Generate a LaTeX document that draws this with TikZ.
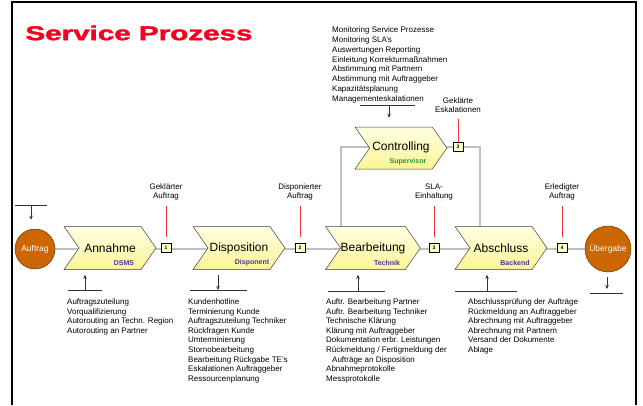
\documentclass[tikz,border=0pt]{standalone}
\usepackage{fontspec}
\setmainfont{Liberation Sans}
\newfontfamily\titlefont[BoldFeatures={FakeBold=1.6}]{Liberation Sans}
\usetikzlibrary{shapes.symbols,positioning,backgrounds,arrows.meta}

\definecolor{titlered}{RGB}{245,0,30}
\definecolor{endorange}{RGB}{204,102,0}
\definecolor{endborder}{RGB}{110,55,0}
\definecolor{steptop}{RGB}{255,255,228}
\definecolor{stepbottom}{RGB}{250,245,150}
\definecolor{rolepurple}{RGB}{80,50,150}
\definecolor{rolegreen}{RGB}{40,150,40}
\definecolor{flowgray}{RGB}{192,192,192}
\definecolor{markred}{RGB}{240,50,50}
\definecolor{tagfill}{RGB}{255,255,204}

\begin{document}
\begin{tikzpicture}[
				x=1pt, y=-1pt,
				procstep/.style={signal, signal from=west, signal to=east, signal pointer angle=110,
					draw=black!75, line width=0.5pt, top color=steptop, bottom color=stepbottom,
					minimum width=92pt, minimum height=43pt, inner sep=0pt,
					font=\fontsize{12}{14}\selectfont},
				endpoint/.style={circle, draw=endborder, line width=0.5pt, fill=endorange, text=white,
					minimum size=40pt, inner sep=0pt, font=\fontsize{8.5}{10}\selectfont},
				role/.style={inner sep=0pt, text=rolepurple, font=\fontsize{7}{8}\selectfont\bfseries},
				tagbox/.style={draw, line width=0.7pt, fill=tagfill, minimum width=10pt, minimum height=9pt,
					inner sep=0pt, font=\fontsize{5}{5}\selectfont\bfseries},
				result/.style={align=center, inner sep=0pt, font=\fontsize{8}{9.6}\selectfont},
				tasklist/.style={align=left, anchor=north west, inner sep=0pt, font=\fontsize{8}{9.6}\selectfont},
				flow/.style={draw=flowgray, line width=2.5pt},
				marker/.style={draw=markred, line width=0.8pt},
				bar/.style={draw=black!80, line width=0.7pt},
				feed/.style={draw=black!80, line width=0.7pt, -{Stealth[length=4pt,width=3.5pt]}}
			]
			\useasboundingbox (0,0) rectangle (643,405);
			\draw[line width=1.2pt] (12,405) -- (12,2) -- (636,2) -- (636,405);
			\node[text=titlered, font=\titlefont\fontsize{20}{24}\selectfont\bfseries] (title) at (139,33)
				{\scalebox{1.48}[1]{Service Prozess}};

			\node[endpoint] (auftrag) at (35,249) {Auftrag};
			\node[procstep] (annahme) at (110,248) {Annahme};
			\node[procstep] (dispo) at (239,248) {Disposition};
			\node[procstep] (bearb) at (373,248) {Bearbeitung};
			\node[procstep] (abschl) at (501,248) {Abschluss};
			\node[procstep, minimum height=42pt] (control) at (401,148) {\raisebox{4pt}{Controlling}};
			\node[endpoint, minimum size=46pt] (uebergabe) at (608,249) {Übergabe};

			\node[role] (rAnnahme) at ([xshift=14pt,yshift=-15pt]annahme.center) {DSMS};
			\node[role] (rDispo) at ([xshift=13pt,yshift=-15pt]dispo.center) {Disponent};
			\node[role] (rBearb) at ([xshift=14pt,yshift=-15pt]bearb.center) {Technik};
			\node[role] (rAbschl) at ([xshift=14pt,yshift=-15pt]abschl.center) {Backend};
			\node[role, text=rolegreen] (rControl) at ([xshift=7pt,yshift=-14pt]control.center) {Supervisor};

			\node[tagbox] (t1) at (166,248) {1};
			\node[tagbox] (t2) at (300,248) {2};
			\node[tagbox] (t3) at (434,248) {3};
			\node[tagbox] (t4) at (562,248) {4};
			\node[tagbox] (tc) at (458,147) {3};

			\node[result] (e1) at (166,192) {Geklärter\\Auftrag};
			\node[result] (e2) at (300,192) {Disponierter\\Auftrag};
			\node[result] (e3) at (434,192) {SLA-\\Einhaltung};
			\node[result] (e4) at (562,192) {Erledigter\\Auftrag};
			\node[result] (ec) at (458,105) {Geklärte\\Eskalationen};

			\draw[marker, shorten <=6pt, shorten >=5pt] (t1.north) -- (e1.south);
			\draw[marker, shorten <=6pt, shorten >=5pt] (t2.north) -- (e2.south);
			\draw[marker, shorten <=6pt, shorten >=5pt] (t3.north) -- (e3.south);
			\draw[marker, shorten <=6pt, shorten >=5pt] (t4.north) -- (e4.south);
			\draw[marker, shorten >=6pt] (tc.north) -- (ec.south);

			\begin{pgfonlayer}{background}
				\fill[white] (0,0) rectangle (643,405);
				\draw[flow] (auftrag) -- (uebergabe);
				\draw[flow] ([xshift=-32pt]bearb.north) |- (tc.center) -| ([xshift=-21pt]abschl.north);
			\end{pgfonlayer}

			\coordinate (inAuftrag) at (31,205);
			\coordinate (inAnnahme) at (85,290);
			\coordinate (outDispo) at (218,290);
			\coordinate (inBearb) at (358,291);
			\coordinate (inAbschl) at (487,291);
			\coordinate (inControl) at (389,105);
			\coordinate (outUeber) at (607,293);

			\draw[bar] ([xshift=-16pt]inAuftrag) -- ([xshift=16pt]inAuftrag);
			\draw[feed, shorten >=9pt] (inAuftrag) -- (inAuftrag |- auftrag.north);
			\draw[bar] ([xshift=-17pt]inAnnahme) -- ([xshift=17pt]inAnnahme);
			\draw[feed, shorten >=5pt] (inAnnahme) -- (inAnnahme |- annahme.south);
			\draw[bar] ([xshift=-28pt]outDispo) -- ([xshift=29pt]outDispo);
			\draw[feed, shorten <=5pt] (outDispo |- dispo.south) -- (outDispo);
			\draw[bar] ([xshift=-30pt]inBearb) -- ([xshift=27pt]inBearb);
			\draw[feed, shorten >=5pt] (inBearb) -- (inBearb |- bearb.south);
			\draw[bar] ([xshift=-32pt]inAbschl) -- ([xshift=30pt]inAbschl);
			\draw[feed, shorten >=5pt] (inAbschl) -- (inAbschl |- abschl.south);
			\draw[bar] ([xshift=-29pt]inControl) -- ([xshift=26pt]inControl);
			\draw[feed, shorten >=9pt] (inControl) -- (inControl |- control.north);
			\draw[bar] ([xshift=-17pt]outUeber) -- ([xshift=16pt]outUeber);
			\draw[feed, shorten <=5pt, shorten >=4pt] (outUeber |- uebergabe.south) -- (outUeber);

			\node[tasklist, font=\fontsize{8}{9.85}\selectfont] (lControl) at (332,26.5) {Monitoring Service Prozesse\\Monitoring SLA's\\Auswertungen Reporting\\Einleitung Korrekturmaßnahmen\\Abstimmung mit Partnern\\Abstimmung mit Auftraggeber\\Kapazitätsplanung\\Managementeskalationen};
			\node[tasklist] (lAnnahme) at (67,298.5) {Auftragszuteilung\\Vorqualifizierung\\Autorouting an Techn. Region\\Autorouting an Partner};
			\node[tasklist] (lDispo) at (188,298.5) {Kundenhotline\\Terminierung Kunde\\Auftragszuteilung Techniker\\Rückfragen Kunde\\Umterminierung\\Stornobearbeitung\\Bearbeitung Rückgabe TE's\\Eskalationen Auftraggeber\\Ressourcenplanung};
			\node[tasklist] (lBearb) at (326,298.5) {Auftr. Bearbeitung Partner\\Auftr. Bearbeitung Techniker\\Technische Klärung\\Klärung mit Auftraggeber\\Dokumentation erbr. Leistungen\\Rückmeldung / Fertigmeldung der\\\hspace{6pt}Aufträge an Disposition\\Abnahmeprotokolle\\Messprotokolle};
			\node[tasklist] (lAbschl) at (468,298.5) {Abschlussprüfung der Aufträge\\Rückmeldung an Auftraggeber\\Abrechnung mit Auftraggeber\\Abrechnung mit Partnern\\Versand der Dokumente\\Ablage};
		\end{tikzpicture}
\end{document}
